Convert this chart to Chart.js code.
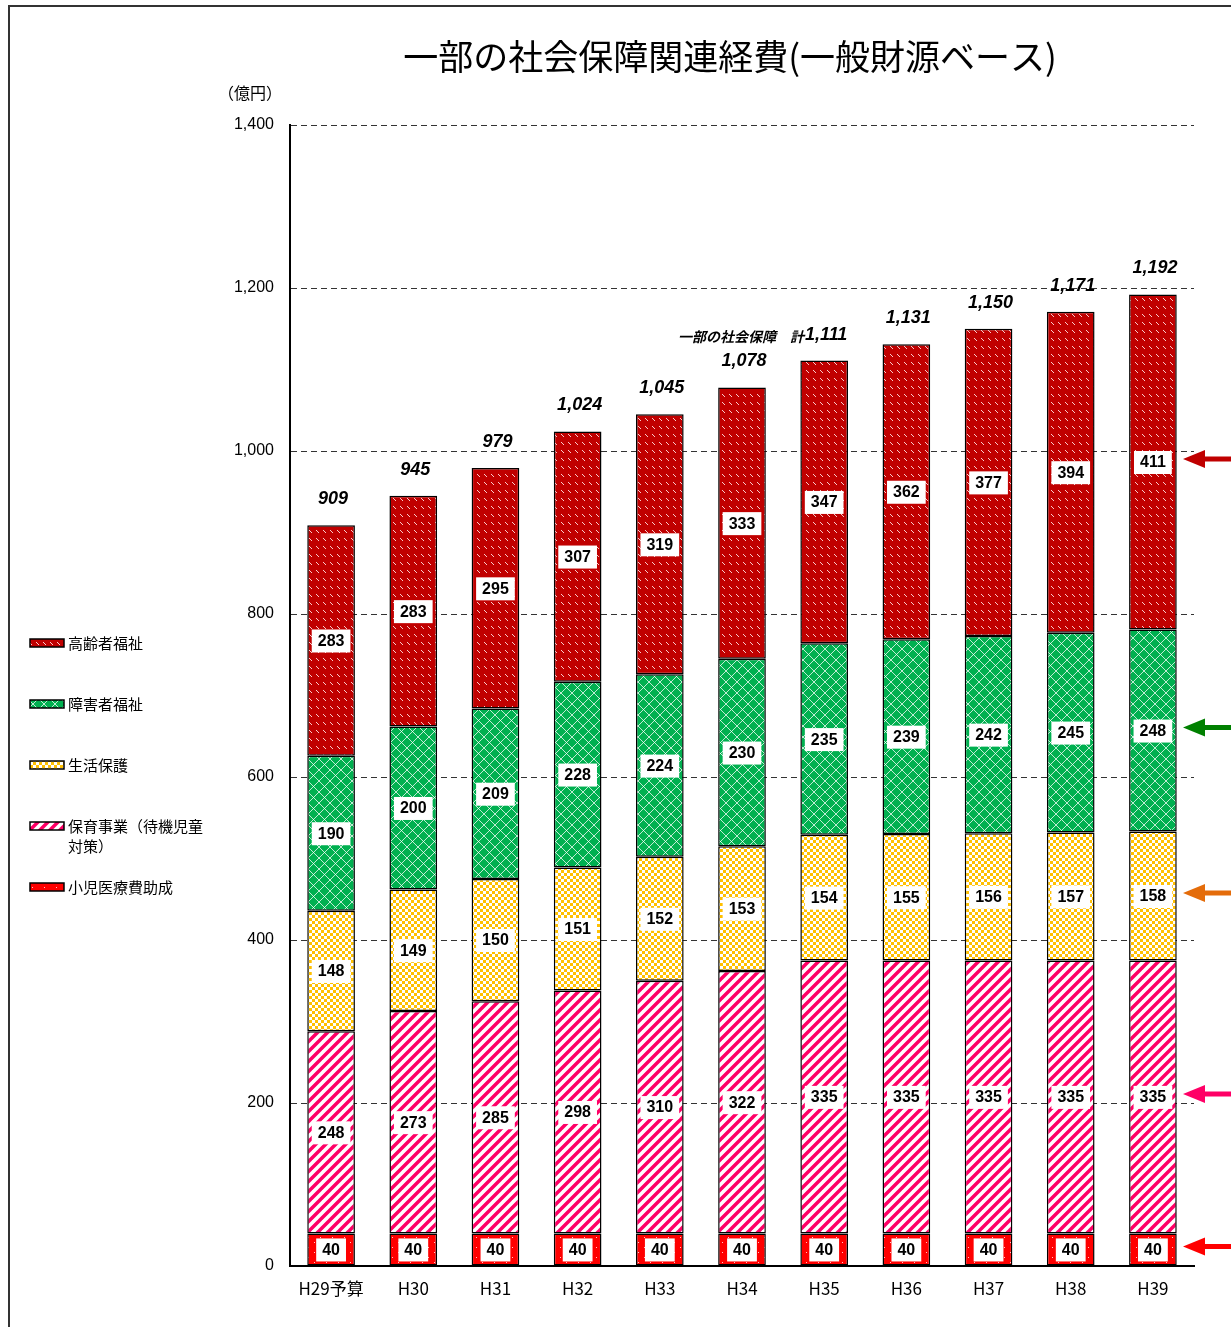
<!DOCTYPE html>
<html lang="ja">
<head>
<meta charset="utf-8">
<title>一部の社会保障関連経費</title>
<script src="https://cdn.jsdelivr.net/npm/chart.js@4.4.1/dist/chart.umd.min.js"></script>
<style>
  body { margin: 0; background: #fff; }
  #wrap { width: 1231px; height: 1327px; }
</style>
</head>
<body>
<div id="wrap"><canvas id="chart" width="1231" height="1327"></canvas></div>
<script>
// 年度
const years = ['H29予算', 'H30', 'H31', 'H32', 'H33', 'H34', 'H35', 'H36', 'H37', 'H38', 'H39'];

// 内訳（億円）
const childMedical = [40, 40, 40, 40, 40, 40, 40, 40, 40, 40, 40];
const childcare    = [248, 273, 285, 298, 310, 322, 335, 335, 335, 335, 335];
const welfare      = [148, 149, 150, 151, 152, 153, 154, 155, 156, 157, 158];
const disability   = [190, 200, 209, 228, 224, 230, 235, 239, 242, 245, 248];
const elderly      = [283, 283, 295, 307, 319, 333, 347, 362, 377, 394, 411];

const yTicks = [0, 200, 400, 600, 800, 1000, 1200, 1400];

const totals = years.map((_, i) =>
  childMedical[i] + childcare[i] + welfare[i] + disability[i] + elderly[i]);

const JP = '"Noto Sans CJK JP", "Noto Sans", sans-serif';
const NUM = '"Liberation Sans", Arial, sans-serif';

// ---- fill patterns ----
function makeTile(w, h, draw) {
  const c = document.createElement('canvas');
  c.width = w; c.height = h;
  const g = c.getContext('2d');
  draw(g, w, h);
  return document.createElement('canvas').getContext('2d').createPattern(c, 'repeat');
}

// 短い "\" の破線を段ごとに
const patElderly = makeTile(7, 8, (g, w, h) => {
  g.fillStyle = '#c00000'; g.fillRect(0, 0, w, h);
  g.fillStyle = 'rgba(255,225,225,0.9)';
  for (let k = 0; k < 3; k++) g.fillRect(1 + k, 2 + k, 1, 1);
});

const patDisability = makeTile(11, 11, (g, w, h) => {
  g.fillStyle = '#00b050'; g.fillRect(0, 0, w, h);
  g.strokeStyle = 'rgba(255,255,255,0.75)'; g.lineWidth = 1;
  g.beginPath();
  g.moveTo(0, 0); g.lineTo(w, h);
  g.moveTo(w, 0); g.lineTo(0, h);
  g.stroke();
});

const patWelfare = makeTile(6, 6, (g, w, h) => {
  g.fillStyle = '#ffc000'; g.fillRect(0, 0, w, h);
  g.fillStyle = '#ffffff';
  g.fillRect(0, 0, 3, 3); g.fillRect(3, 3, 3, 3);
});

// "/" 向きの斜線
const patChildcare = makeTile(10, 10, (g, w, h) => {
  g.fillStyle = '#ffffff'; g.fillRect(0, 0, w, h);
  g.strokeStyle = '#ff0066'; g.lineWidth = 3.5;
  g.beginPath();
  for (let s = 0; s <= 20; s += 10) { g.moveTo(s - 11, 11); g.lineTo(s + 1, -1); }
  g.stroke();
});

const patChildMedical = makeTile(12, 10, (g, w, h) => {
  g.fillStyle = '#ff0000'; g.fillRect(0, 0, w, h);
  g.fillStyle = 'rgba(255,220,220,0.9)';
  g.fillRect(2, 2, 1, 1); g.fillRect(8, 7, 1, 1);
});

// 右端の矢印の色（上から）
const arrowColors = ['#c00000', '#008000', '#e46c0a', '#ff0066', '#ff0000'];

// ---- plugin: title, frame, legend, labels, arrows ----
const decorations = {
  id: 'decorations',
  beforeDraw(chart) {
    const ctx = chart.ctx;
    ctx.save();
    ctx.fillStyle = '#fff';
    ctx.fillRect(0, 0, chart.width, chart.height);
    // 外枠
    ctx.strokeStyle = '#333';
    ctx.lineWidth = 2;
    ctx.beginPath();
    ctx.moveTo(9, chart.height);
    ctx.lineTo(9, 6);
    ctx.lineTo(chart.width, 6);
    ctx.stroke();
    // タイトル
    ctx.fillStyle = '#000';
    ctx.font = '35px ' + JP;
    ctx.textAlign = 'center';
    ctx.textBaseline = 'middle';
    ctx.fillText('一部の社会保障関連経費(一般財源ベース)', 730, 57);
    // 単位
    ctx.font = '16px ' + JP;
    ctx.fillText('（億円）', 250, 93);
    ctx.restore();
  },
  afterDatasetsDraw(chart) {
    const ctx = chart.ctx;
    const ys = chart.scales.y;
    ctx.save();

    // 各内訳の数値ラベル
    ctx.font = 'bold 16px ' + NUM;
    ctx.textAlign = 'center';
    ctx.textBaseline = 'middle';
    chart.data.datasets.forEach((ds, di) => {
      const meta = chart.getDatasetMeta(di);
      meta.data.forEach((bar, j) => {
        const cy = (bar.y + bar.base) / 2;
        const txt = String(ds.data[j]);
        const w = ctx.measureText(txt).width + 12;
        ctx.fillStyle = '#fff';
        ctx.fillRect(bar.x - w / 2, cy - 11, w, 23);
        ctx.fillStyle = '#000';
        ctx.fillText(txt, bar.x, cy + 1);
      });
    });

    // 合計
    const top = chart.getDatasetMeta(chart.data.datasets.length - 1);
    ctx.font = 'italic bold 18px ' + NUM;
    totals.forEach((t, j) => {
      const x = top.data[j].x;
      const y = ys.getPixelForValue(t) - 26;
      ctx.fillText(t.toLocaleString('en-US'), x + 2, y);
      if (j === 6) {
        const tw = ctx.measureText(t.toLocaleString('en-US')).width;
        ctx.save();
        ctx.font = 'italic bold 14px ' + JP;
        ctx.textAlign = 'right';
        ctx.fillText('一部の社会保障　計', x + 2 - tw / 2 - 1, y + 2);
        ctx.restore();
      }
    });

    // 右端の矢印（H39 の各内訳を指す）
    const last = years.length - 1;
    const order = [4, 3, 2, 1, 0];
    order.forEach((di, k) => {
      const bar = chart.getDatasetMeta(di).data[last];
      const cy = (bar.y + bar.base) / 2 - 3;
      const tipX = 1183;
      ctx.fillStyle = arrowColors[k];
      ctx.beginPath();
      ctx.moveTo(tipX, cy);
      ctx.lineTo(tipX + 22, cy - 9);
      ctx.lineTo(tipX + 22, cy - 2.5);
      ctx.lineTo(chart.width, cy - 2.5);
      ctx.lineTo(chart.width, cy + 2.5);
      ctx.lineTo(tipX + 22, cy + 2.5);
      ctx.lineTo(tipX + 22, cy + 9);
      ctx.closePath();
      ctx.fill();
    });

    // 凡例（上から 高齢者福祉 … 小児医療費助成）
    const legendY = [643, 704, 765, 826, 887];
    ctx.textAlign = 'left';
    ctx.font = '15px ' + JP;
    order.forEach((di, k) => {
      const ds = chart.data.datasets[di];
      const y = legendY[k];
      ctx.fillStyle = ds.backgroundColor;
      ctx.fillRect(30, y - 4, 34, 8);
      ctx.strokeStyle = '#000';
      ctx.lineWidth = 1.5;
      ctx.strokeRect(30, y - 4, 34, 8);
      ctx.fillStyle = '#000';
      const lines = Array.isArray(ds.legendLines) ? ds.legendLines : [ds.label];
      lines.forEach((ln, li) => ctx.fillText(ln, 68, y + li * 20));
    });

    ctx.restore();
  }
};

new Chart(document.getElementById('chart'), {
  type: 'bar',
  data: {
    labels: years,
    datasets: [
      { label: '小児医療費助成', data: childMedical, backgroundColor: patChildMedical },
      { label: '保育事業（待機児童対策）', legendLines: ['保育事業（待機児童', '対策）'], data: childcare, backgroundColor: patChildcare },
      { label: '生活保護', data: welfare, backgroundColor: patWelfare },
      { label: '障害者福祉', data: disability, backgroundColor: patDisability },
      { label: '高齢者福祉', data: elderly, backgroundColor: patElderly }
    ].map(d => Object.assign({
      borderColor: '#000',
      borderWidth: 1.5,
      borderSkipped: false,
      categoryPercentage: 1,
      barPercentage: 0.58
    }, d))
  },
  options: {
    responsive: false,
    devicePixelRatio: 1,
    animation: false,
    layout: { padding: { left: 0, top: 125, right: 37, bottom: 21 } },
    plugins: {
      legend: { display: false },
      title: { display: false },
      tooltip: { enabled: false }
    },
    scales: {
      x: {
        stacked: true,
        grid: { display: false },
        border: { display: true, color: '#000', width: 2 },
        ticks: { color: '#000', font: { size: 17, family: JP }, padding: 4, maxRotation: 0 },
        afterFit(scale) { scale.height = 40; }
      },
      y: {
        stacked: true,
        min: 0,
        max: 1400,
        afterBuildTicks(scale) { scale.ticks = yTicks.map(v => ({ value: v })); },
        grid: { color: '#333', lineWidth: 1, drawTicks: false },
        border: { display: true, color: '#000', width: 2, dash: [6, 4] },
        ticks: {
          color: '#000',
          padding: 16,
          font: { size: 16, family: NUM },
          callback: v => v.toLocaleString('en-US')
        },
        afterFit(scale) { scale.width = 290; }
      }
    }
  },
  plugins: [decorations]
});
</script>
</body>
</html>
